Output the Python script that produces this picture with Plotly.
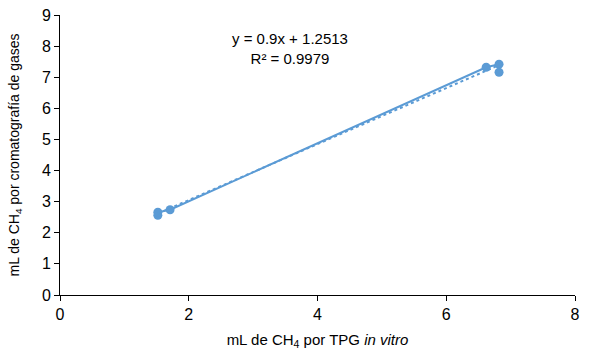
import plotly.graph_objects as go
import numpy as np

x_tpg = [1.52, 1.52, 1.71, 6.62, 6.82, 6.82]
y_cg = [2.56, 2.66, 2.74, 7.32, 7.42, 7.16]
slope = 0.9
intercept = 1.2513
r2 = 0.9979
x_ticks = [0, 2, 4, 6, 8]
y_ticks = [0, 1, 2, 3, 4, 5, 6, 7, 8, 9]

color = "#5B9BD5"
font = "Liberation Sans, Arial"
fig = go.Figure()
fig.add_trace(go.Scatter(x=x_tpg, y=y_cg, mode="lines+markers",
                         line=dict(color=color, width=2),
                         marker=dict(color=color, size=9), showlegend=False))
tx = np.array([min(x_tpg), max(x_tpg)])
fig.add_trace(go.Scatter(x=tx, y=slope * tx + intercept, mode="lines",
                         line=dict(color=color, width=2, dash="dot"), showlegend=False))

fig.add_annotation(x=0.447, y=1.0, xref="paper", yref="paper", xanchor="center", yanchor="top",
                   showarrow=False, yshift=-13,
                   text=f"y = {slope}x + {intercept}<br>R² = {r2}",
                   font=dict(size=15, color="#000000", family=font))

axis_common = dict(showgrid=False, zeroline=False, showline=True, linecolor="#000000", linewidth=1,
                   ticks="outside", ticklen=5, tickcolor="#000000", automargin=False,
                   ticklabeloverflow="allow",
                   tickfont=dict(size=16, color="#000000", family=font))
fig.update_xaxes(range=[0, 8], tickvals=x_ticks, **axis_common,
                 title=dict(text="mL de CH<sub>4</sub> por TPG <i>in vitro</i>",
                            font=dict(size=15, color="#000000", family=font), standoff=12))
fig.update_yaxes(range=[0, 9], tickvals=y_ticks, **axis_common,
                 title=dict(text="mL de CH<sub>4</sub> por cromatografía de gases",
                            font=dict(size=14, color="#000000", family=font), standoff=18))
fig.update_layout(width=589, height=352, margin=dict(l=60, r=14, t=15, b=57),
                  plot_bgcolor="white", paper_bgcolor="white")
fig.write_html("out.html", config={"displayModeBar": False},
               post_script="document.body.style.margin='0';")
